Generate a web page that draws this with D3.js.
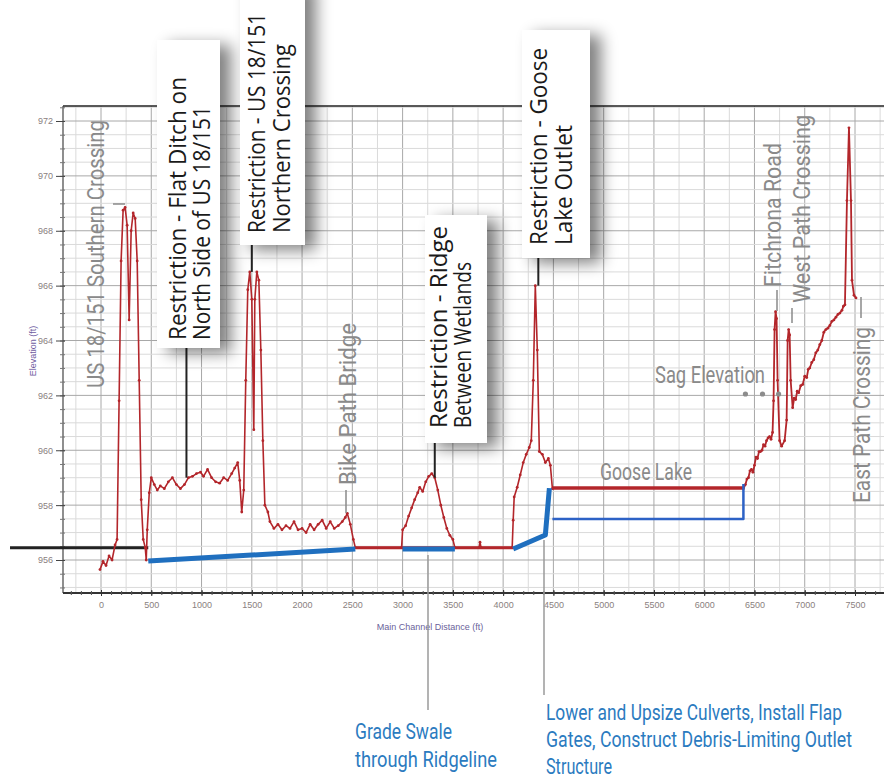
<!DOCTYPE html>
<html>
<head>
<meta charset="utf-8">
<script src="https://cdn.jsdelivr.net/npm/d3@7"></script>
<style>
body { margin: 0; background: #fff; }
svg { display: block; }
</style>
</head>
<body>
<div id="chart"></div>
<script>
// tick values
var xTickValues = [0, 500, 1000, 1500, 2000, 2500, 3000, 3500, 4000, 4500, 5000, 5500, 6000, 6500, 7000, 7500];
var yTickValues = [956, 958, 960, 962, 964, 966, 968, 970, 972];

// existing channel profile, [distance ft, elevation ft]
var profileWest = [
    [-10, 955.65], [20, 955.95], [50, 955.8], [80, 956.15], [110, 956.0], [140, 956.55], [160, 956.75],
    [180, 961.8], [200, 966.9], [220, 968.75], [240, 968.85], [260, 968.2], [280, 964.75], [300, 968.0],
    [320, 968.65], [340, 968.45], [360, 966.9], [380, 962.55], [400, 958.2], [420, 956.75], [440, 956.45],
    [450, 956.0], [460, 957.1], [480, 958.45], [500, 959.0], [530, 958.75], [560, 958.55], [590, 958.7],
    [630, 958.6], [670, 958.85], [710, 959.0], [750, 958.75], [790, 958.6], [830, 958.75], [870, 959.0],
    [910, 959.05], [950, 959.15], [990, 959.2], [1020, 959.05], [1060, 959.3], [1100, 959.0], [1140, 958.85],
    [1180, 958.8], [1220, 959.0], [1260, 958.9], [1300, 959.15], [1330, 959.35], [1360, 959.55], [1380, 958.9],
    [1400, 957.75], [1420, 958.55], [1440, 962.55], [1460, 965.85], [1480, 966.5], [1500, 965.5], [1520, 960.75],
    [1530, 965.5], [1550, 966.5], [1570, 966.2], [1590, 963.65], [1610, 960.35], [1630, 958.0], [1660, 957.75],
    [1680, 957.4], [1720, 957.15], [1760, 957.3], [1800, 957.1], [1840, 957.25], [1880, 957.15], [1920, 957.4],
    [1960, 957.1], [2000, 957.15], [2040, 957.0], [2080, 957.3], [2120, 957.1], [2160, 957.3], [2200, 957.45],
    [2240, 957.15], [2280, 957.4], [2320, 957.15], [2360, 957.25], [2400, 957.4], [2430, 957.55], [2450, 957.7],
    [2480, 957.3], [2510, 956.75], [2530, 956.45],
    [2990, 956.45], [3000, 957.1], [3030, 957.25], [3060, 957.6], [3090, 957.9], [3120, 958.2], [3150, 958.45],
    [3170, 958.65], [3200, 958.5], [3230, 958.85], [3260, 959.05], [3290, 959.15], [3320, 959.0], [3350, 958.55],
    [3380, 958.0], [3410, 957.55], [3440, 957.15], [3470, 956.9], [3500, 956.75], [3520, 956.45],
    [3760, 956.45], [3770, 956.65], [3780, 956.45], [4090, 956.45],
    [4100, 957.45], [4110, 958.3], [4140, 958.65], [4170, 959.1], [4200, 959.55], [4230, 959.85], [4260, 960.1],
    [4280, 960.35], [4300, 962.55], [4320, 966.0], [4340, 963.65], [4360, 959.95], [4390, 959.85], [4420, 959.55],
    [4450, 959.7], [4470, 959.45], [4490, 958.6]
];
var profileEast = [
    [6390, 958.6], [6410, 958.75], [6425, 958.95], [6440, 959.0], [6455, 959.25], [6470, 959.3], [6485, 959.2],
    [6500, 959.45], [6515, 959.75], [6530, 959.7], [6545, 959.95], [6560, 959.95], [6575, 960.0], [6590, 960.2],
    [6605, 960.15], [6620, 960.35], [6635, 960.45], [6650, 960.5], [6665, 960.4], [6680, 960.65], [6690, 961.8],
    [6700, 964.4], [6710, 965.05], [6720, 964.8], [6730, 962.55], [6750, 960.35], [6770, 960.15], [6800, 960.35],
    [6820, 961.1], [6830, 964.0], [6840, 964.4], [6850, 964.2], [6860, 962.55], [6880, 961.55], [6895, 961.9],
    [6910, 961.85], [6925, 962.15], [6940, 962.1], [6960, 962.35], [6980, 962.4], [7000, 962.7], [7020, 962.65],
    [7035, 962.95], [7050, 963.0], [7070, 963.2], [7090, 963.3], [7110, 963.55], [7130, 963.65], [7150, 963.85],
    [7170, 964.0], [7190, 964.3], [7210, 964.4], [7230, 964.45], [7250, 964.55], [7270, 964.7], [7290, 964.75],
    [7310, 964.85], [7330, 964.95], [7350, 965.0], [7370, 965.1], [7385, 965.25], [7400, 965.3], [7420, 969.1],
    [7440, 971.75], [7460, 969.1], [7470, 966.2], [7490, 965.65], [7510, 965.55]
];
var channelWater = [[2530, 956.45], [4100, 956.45]];
var gooseLake = [[4490, 958.62], [6390, 958.62]];
var downstreamLine = [[-905, 956.45], [470, 956.45]];

// proposed grades
var proposedSwale1 = [[470, 955.96], [2530, 956.4]];
var proposedSwale2 = [[3000, 956.4], [3520, 956.4]];
var proposedOutlet = [[4100, 956.4], [4420, 956.91], [4460, 958.62]];
var proposedLake = [[4490, 957.49], [6390, 957.49], [6390, 958.77]];

var sagDist = [6410, 6580, 6740];
var sagElev = 962.05;

var W = 884, H = 783;
var plot = { left: 63, right: 884, top: 106, bottom: 593 };

var x = d3.scaleLinear().domain([0, 7500]).range([101, 855]);
var y = d3.scaleLinear().domain([956, 972]).range([560, 121]);

var svg = d3.select("#chart").append("svg")
    .attr("width", W)
    .attr("height", H);

var defs = svg.append("defs");
var f = defs.append("filter").attr("id", "shadow")
    .attr("x", "-60%").attr("y", "-20%").attr("width", "220%").attr("height", "140%");
f.append("feGaussianBlur").attr("in", "SourceAlpha").attr("stdDeviation", 8);
f.append("feOffset").attr("dx", 11).attr("dy", 5).attr("result", "off");
f.append("feComponentTransfer").call(function (c) {
    c.append("feFuncA").attr("type", "linear").attr("slope", 0.5);
});
var fm = f.append("feMerge");
fm.append("feMergeNode");
fm.append("feMergeNode").attr("in", "SourceGraphic");

// grid
var grid = svg.append("g");
var xMinor = d3.range(-250, 7800, 250);
var yMinor = d3.range(955, 972.6, 0.5);
grid.selectAll(".vx").data(xMinor).enter().append("line")
    .attr("x1", function (d) { return x(d); })
    .attr("x2", function (d) { return x(d); })
    .attr("y1", plot.top).attr("y2", plot.bottom)
    .attr("stroke", function (d) { return d % 500 === 0 ? "#a8a8a8" : "#dadada"; })
    .attr("stroke-width", 1);
grid.selectAll(".hy").data(yMinor).enter().append("line")
    .attr("y1", function (d) { return y(d); })
    .attr("y2", function (d) { return y(d); })
    .attr("x1", plot.left).attr("x2", plot.right)
    .attr("stroke", function (d) { return d % 2 === 0 ? "#a8a8a8" : "#dadada"; })
    .attr("stroke-width", 1);

// frame
svg.append("line").attr("x1", plot.left).attr("x2", plot.right)
    .attr("y1", plot.top).attr("y2", plot.top).attr("stroke", "#222").attr("stroke-width", 1.5);
svg.append("line").attr("x1", plot.left).attr("x2", plot.left)
    .attr("y1", plot.top).attr("y2", plot.bottom).attr("stroke", "#444").attr("stroke-width", 1.2);
svg.append("line").attr("x1", plot.left).attr("x2", plot.right)
    .attr("y1", plot.bottom).attr("y2", plot.bottom).attr("stroke", "#333").attr("stroke-width", 2);

// axes
var xAxisMinor = d3.axisBottom(x).tickValues(d3.range(-300, 7800, 100)).tickSize(4).tickFormat("");
svg.append("g").attr("transform", "translate(0," + (plot.bottom - 2) + ")").call(xAxisMinor)
    .call(function (g) { g.select(".domain").remove(); g.selectAll("line").attr("stroke", "#555"); });
var xAxis = d3.axisBottom(x).tickValues(xTickValues).tickSize(6).tickPadding(6).tickFormat(d3.format("d"));
svg.append("g").attr("transform", "translate(0," + (plot.bottom - 3) + ")").call(xAxis)
    .call(function (g) {
        g.select(".domain").remove();
        g.selectAll("line").attr("stroke", "#333");
        g.selectAll("text").attr("fill", "#8a7f80").attr("font-size", 9)
            .attr("font-family", "Liberation Sans, Arial, sans-serif");
    });

var yAxisMinor = d3.axisLeft(y).tickValues(d3.range(955, 972.6, 0.5)).tickSize(5).tickFormat("");
svg.append("g").attr("transform", "translate(" + (plot.left + 2) + ",0)").call(yAxisMinor)
    .call(function (g) { g.select(".domain").remove(); g.selectAll("line").attr("stroke", "#777"); });
var yAxis = d3.axisLeft(y).tickValues(yTickValues).tickSize(9).tickPadding(3);
svg.append("g").attr("transform", "translate(" + (plot.left + 2) + ",0)").call(yAxis)
    .call(function (g) {
        g.select(".domain").remove();
        g.selectAll("line").attr("stroke", "#444");
        g.selectAll("text").attr("fill", "#8a8080").attr("font-size", 9)
            .attr("font-family", "Liberation Sans, Arial, sans-serif");
    });

svg.append("text").text("Main Channel Distance (ft)")
    .attr("x", 430).attr("y", 630).attr("text-anchor", "middle")
    .attr("font-size", 9).attr("fill", "#6a5f9a")
    .attr("font-family", "Liberation Sans, Arial, sans-serif");
svg.append("text").text("Elevation (ft)")
    .attr("transform", "translate(36,351) rotate(-90)").attr("text-anchor", "middle")
    .attr("font-size", 9).attr("fill", "#6e5aa0")
    .attr("font-family", "Liberation Sans, Arial, sans-serif");

var line = d3.line().x(function (d) { return x(d[0]); }).y(function (d) { return y(d[1]); });
var red = "#b3262b", blue = "#1f6fbf";

function path(data, color, w) {
    return svg.append("path").datum(data).attr("d", line)
        .attr("fill", "none").attr("stroke", color).attr("stroke-width", w)
        .attr("stroke-linejoin", "round");
}

path(downstreamLine, "#222", 3);
path(channelWater, red, 3);
path(gooseLake, red, 3.5);
path(profileWest, red, 1.6);
path(profileEast, red, 1.8);
svg.append("g").selectAll("circle").data(profileWest.concat(profileEast)).enter().append("circle")
    .attr("cx", function (d) { return x(d[0]); })
    .attr("cy", function (d) { return y(d[1]); })
    .attr("r", 1.4).attr("fill", red);

path(proposedSwale1, blue, 5);
path(proposedSwale2, blue, 5);
path(proposedOutlet, blue, 5);
path(proposedLake, "#2d62c6", 2.5);

svg.append("g").selectAll("circle").data(sagDist).enter().append("circle")
    .attr("cx", function (d) { return x(d); })
    .attr("cy", y(sagElev))
    .attr("r", 2.6).attr("fill", "#8c8c8c");

// restriction call-out boxes
var boxFont = "Open Sans, Noto Sans, sans-serif";
var boxes = [
    { x: 157, y: 40, w: 63, h: 308, leadX: 850, leadE: 959.0,
      lines: [["Restriction - Flat Ditch on", 186, 340, 263], ["North Side of US 18/151", 210, 340, 234]] },
    { x: 240, y: -20, w: 65, h: 265, leadX: 1500, leadE: 966.5,
      lines: [["Restriction - US 18/151", 265, 233, 220], ["Northern Crossing", 290, 233, 189]] },
    { x: 425, y: 215, w: 62, h: 228, leadX: 3320, leadE: 959.0,
      lines: [["Restriction - Ridge", 447, 428, 202], ["Between Wetlands", 471, 428, 166]] },
    { x: 522, y: 30, w: 68, h: 228, leadX: 4350, leadE: 966.0,
      lines: [["Restriction - Goose", 547, 245, 197], ["Lake Outlet", 572, 245, 120]] }
];
boxes.forEach(function (b) {
    svg.append("line")
        .attr("x1", x(b.leadX)).attr("x2", x(b.leadX))
        .attr("y1", b.y + b.h).attr("y2", y(b.leadE))
        .attr("stroke", "#222").attr("stroke-width", 2);
    svg.append("rect").attr("x", b.x).attr("y", b.y).attr("width", b.w).attr("height", b.h)
        .attr("fill", "#fff").attr("filter", "url(#shadow)");
    b.lines.forEach(function (l) {
        // smaller font stretched taller keeps the natural length inside the page
        svg.append("text").text(l[0])
            .attr("transform", "translate(" + l[1] + "," + l[2] + ") rotate(-90) scale(1,1.2)")
            .attr("textLength", l[3]).attr("lengthAdjust", "spacingAndGlyphs")
            .attr("font-size", 19).attr("font-family", boxFont).attr("fill", "#1a1a1a");
    });
});

// gray feature labels
var grayFont = "Liberation Sans Narrow, Roboto, sans-serif";
var gray = "#8a8a8a";
function vlabel(t, bx, by, len) {
    svg.append("text").text(t)
        .attr("transform", "translate(" + bx + "," + by + ") rotate(-90)")
        .attr("textLength", len).attr("lengthAdjust", "spacingAndGlyphs")
        .attr("font-size", 24).attr("font-family", grayFont).attr("fill", gray);
}
function hlabel(t, bx, by, len, color, size, stretch) {
    svg.append("text").text(t)
        .attr("transform", "translate(" + bx + "," + by + ") scale(1," + (stretch || 1) + ")")
        .attr("textLength", len).attr("lengthAdjust", "spacingAndGlyphs")
        .attr("font-size", size).attr("font-family", grayFont).attr("fill", color);
}
function tick(x1, y1, x2, y2, c) {
    svg.append("line").attr("x1", x1).attr("y1", y1).attr("x2", x2).attr("y2", y2)
        .attr("stroke", c).attr("stroke-width", 1.5);
}

vlabel("US 18/151 Southern Crossing", 104, 388, 268);
tick(113, 204, 125, 204, gray);
vlabel("Bike Path Bridge", 356, 485, 162);
tick(346, 490, 346, 513, gray);
vlabel("Fitchrona Road", 781, 287, 144);
tick(777, 290, 777, 311, gray);
vlabel("West Path Crossing", 810, 303, 188);
tick(792, 308, 792, 323, gray);
vlabel("East Path Crossing", 870, 503, 176);
tick(861, 297, 861, 318, gray);
hlabel("Sag Elevation", 655, 383, 110, gray, 24);
hlabel("Goose Lake", 600, 480, 92, gray, 24);

// proposed improvements call-outs
var blueText = "#2b7bbf";
tick(428, 555, 428, 710, "#9a9a9a");
tick(544, 540, 544, 695, "#9a9a9a");
hlabel("Grade Swale", 355, 739, 97, blueText, 16, 1.43);
hlabel("through Ridgeline", 355, 767, 142, blueText, 16, 1.43);
hlabel("Lower and Upsize Culverts, Install Flap", 546, 720, 296, blueText, 16, 1.43);
hlabel("Gates, Construct Debris-Limiting Outlet", 546, 747, 306, blueText, 16, 1.43);
hlabel("Structure", 546, 774, 66, blueText, 16, 1.43);
</script>
</body>
</html>
